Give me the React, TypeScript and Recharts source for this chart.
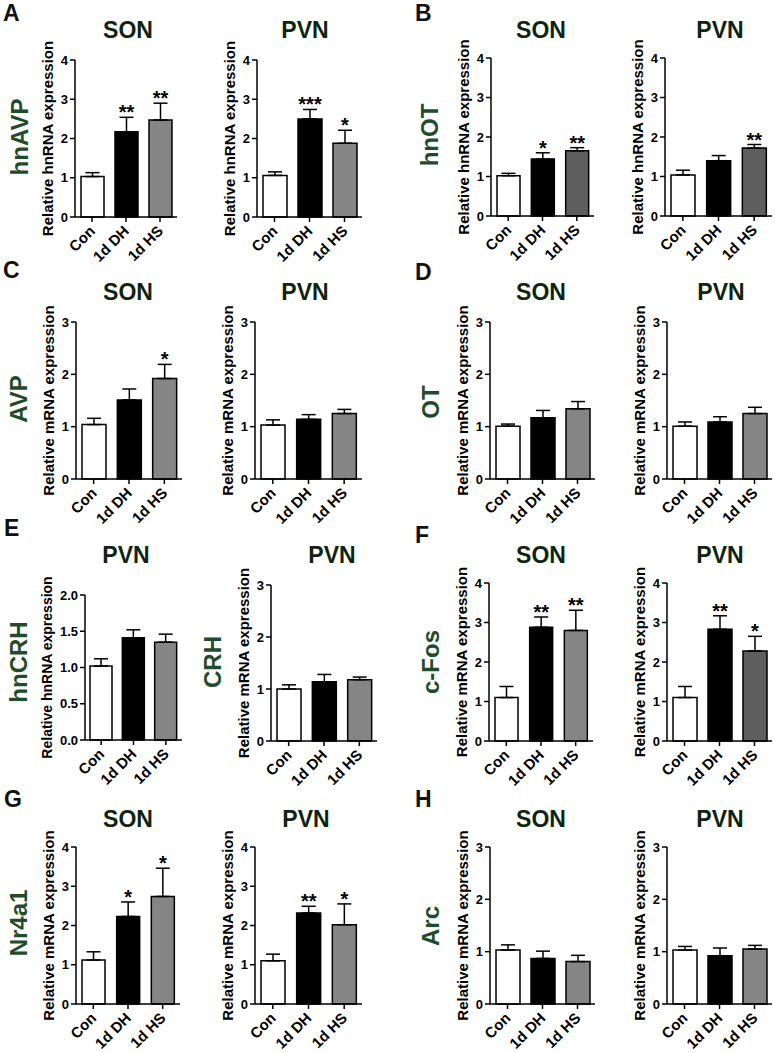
import React from "react";
import { BarChart, Bar, XAxis, YAxis, Cell, ErrorBar, LabelList, Label } from "recharts";

const FONT = "'Liberation Sans', Arial, sans-serif";
const groups = ["Con", "1d DH", "1d HS"];

// A - hnAVP
const hnAvpSonMean = [1.03, 2.17, 2.47];
const hnAvpSonSem = [0.1, 0.37, 0.43];
const hnAvpSonSig = ["", "**", "**"];
const hnAvpPvnMean = [1.06, 2.5, 1.88];
const hnAvpPvnSem = [0.09, 0.24, 0.33];
const hnAvpPvnSig = ["", "***", "*"];

// B - hnOT
const hnOtSonMean = [1.02, 1.44, 1.65];
const hnOtSonSem = [0.06, 0.16, 0.08];
const hnOtSonSig = ["", "*", "**"];
const hnOtPvnMean = [1.04, 1.4, 1.72];
const hnOtPvnSem = [0.12, 0.13, 0.09];
const hnOtPvnSig = ["", "", "**"];

// C - AVP
const avpSonMean = [1.04, 1.51, 1.92];
const avpSonSem = [0.12, 0.21, 0.27];
const avpSonSig = ["", "", "*"];
const avpPvnMean = [1.03, 1.14, 1.25];
const avpPvnSem = [0.1, 0.09, 0.08];

// D - OT
const otSonMean = [1.01, 1.17, 1.34];
const otSonSem = [0.04, 0.14, 0.14];
const otPvnMean = [1.01, 1.09, 1.25];
const otPvnSem = [0.08, 0.1, 0.12];

// E - hnCRH / CRH (PVN)
const hnCrhMean = [1.02, 1.41, 1.35];
const hnCrhSem = [0.1, 0.11, 0.11];
const crhMean = [1.0, 1.14, 1.18];
const crhSem = [0.08, 0.14, 0.05];

// F - c-Fos
const cFosSonMean = [1.1, 2.88, 2.8];
const cFosSonSem = [0.28, 0.26, 0.51];
const cFosSonSig = ["", "**", "**"];
const cFosPvnMean = [1.1, 2.83, 2.28];
const cFosPvnSem = [0.28, 0.34, 0.37];
const cFosPvnSig = ["", "**", "*"];

// G - Nr4a1
const nr4a1SonMean = [1.12, 2.23, 2.74];
const nr4a1SonSem = [0.21, 0.37, 0.72];
const nr4a1SonSig = ["", "*", "*"];
const nr4a1PvnMean = [1.1, 2.32, 2.02];
const nr4a1PvnSem = [0.17, 0.17, 0.53];
const nr4a1PvnSig = ["", "**", "*"];

// H - Arc
const arcSonMean = [1.03, 0.87, 0.81];
const arcSonSem = [0.1, 0.14, 0.12];
const arcPvnMean = [1.03, 0.92, 1.05];
const arcPvnSem = [0.07, 0.15, 0.07];

const ticks4 = [0, 1, 2, 3, 4];
const ticks3 = [0, 1, 2, 3];
const ticks2 = [0, 0.5, 1, 1.5, 2];
const noSig = ["", "", ""];

const Y_W = 60;
const TOP_PAD = 45;
const X_H = 60;
const R_PAD = 6;

const XTick = (props: any) => {
  const { x, y, payload } = props;
  return (
    <g transform={`translate(${x + 4},${y + 8})`}>
      <text x={0} y={0} textAnchor="end" transform="rotate(-45)" fontSize={15} fontWeight={700} fill="#000" fontFamily={FONT}>
        {payload.value}
      </text>
    </g>
  );
};

type ChartProps = {
  x: number;
  top: number;
  bottom: number;
  right: number;
  mean: number[];
  sem: number[];
  sig: string[];
  yMax: number;
  ticks: number[];
  yLabel: string;
  hsFill?: string;
  decimals?: boolean;
  labelGap?: number;
  labelSize?: number;
};

function MiniBar({ x, top, bottom, right, mean, sem, sig, yMax, ticks, yLabel, hsFill = "#858585", decimals, labelGap = 28, labelSize = 15 }: ChartProps) {
  const data = groups.map((g, i) => ({ group: g, value: mean[i], sem: [0, sem[i]], sig: sig[i] }));
  const w = right - x + Y_W + R_PAD;
  const h = bottom - top + TOP_PAD + X_H;
  const fills = ["#ffffff", "#000000", hsFill];
  const barSize = Math.round((right - x) * 0.225);

  const stars = (p: any) => {
    const vb = p.viewBox || p;
    const bx = vb.x ?? p.x;
    const by = vb.y ?? p.y;
    const bw = vb.width ?? p.width;
    const bh = vb.height ?? p.height;
    const i = p.index;
    if (!p.value) return null;
    const errTop = by - sem[i] * (bh / mean[i]);
    return (
      <text x={bx + bw / 2} y={errTop + 2} textAnchor="middle" fontSize={20} fontWeight={700} fill="#000" fontFamily={FONT}>
        {p.value}
      </text>
    );
  };

  const yLab = (p: any) => {
    const vb = p.viewBox;
    const cx = vb.x + vb.width - labelGap;
    const cy = vb.y + vb.height / 2;
    return (
      <text x={cx} y={cy} transform={`rotate(-90 ${cx} ${cy})`} textAnchor="middle" dominantBaseline="central" fontSize={labelSize} fontWeight={700} fill="#000" fontFamily={FONT}>
        {yLabel}
      </text>
    );
  };

  return (
    <div style={{ position: "absolute", left: x - Y_W, top: top - TOP_PAD }}>
      <BarChart width={w} height={h} data={data} margin={{ top: TOP_PAD, right: R_PAD, left: 0, bottom: 0 }} barSize={barSize}>
        <XAxis
          dataKey="group"
          height={X_H}
          interval={0}
          tick={<XTick />}
          tickSize={5}
          tickLine={{ stroke: "#000", strokeWidth: 1.5 }}
          axisLine={{ stroke: "#000", strokeWidth: 1.5 }}
        />
        <YAxis
          width={Y_W}
          domain={[0, yMax]}
          ticks={ticks}
          tickFormatter={(v: number) => (decimals ? v.toFixed(1) : String(v))}
          tick={{ fill: "#000", fontSize: 13, fontWeight: 700, fontFamily: FONT }}
          tickSize={5}
          tickLine={{ stroke: "#000", strokeWidth: 1.5 }}
          axisLine={{ stroke: "#000", strokeWidth: 1.5 }}
        >
          <Label content={yLab} />
        </YAxis>
        <Bar dataKey="value" isAnimationActive={false} stroke="#000" strokeWidth={1.5}>
          {data.map((d, i) => (
            <Cell key={d.group} fill={fills[i]} />
          ))}
          <ErrorBar dataKey="sem" width={7} stroke="#000" strokeWidth={1.5} direction="y" />
          <LabelList dataKey="sig" content={stars} />
        </Bar>
      </BarChart>
    </div>
  );
}

const letterStyle = { fontSize: 23, fontWeight: 700, fill: "#111", fontFamily: FONT };
const titleStyle = { fontSize: 23, fontWeight: 700, fill: "#0f2410", fontFamily: FONT };
const geneStyle = { fontSize: 24, fontWeight: 700, fill: "#1f4d2a", fontFamily: FONT };

const Gene = ({ x, y, t }: { x: number; y: number; t: string }) => (
  <text x={x} y={y} transform={`rotate(-90 ${x} ${y})`} textAnchor="middle" dominantBaseline="central" style={geneStyle}>
    {t}
  </text>
);

export default function App() {
  return (
    <div style={{ position: "relative", width: 775, height: 1053, background: "#fff", overflow: "hidden" }}>
      <style>{`body{margin:0}`}</style>
      <svg width={775} height={1053} style={{ position: "absolute", left: 0, top: 0 }}>
        <text x={3} y={21} style={letterStyle}>A</text>
        <text x={415} y={21} style={letterStyle}>B</text>
        <text x={3} y={278} style={letterStyle}>C</text>
        <text x={415} y={280} style={letterStyle}>D</text>
        <text x={4} y={536} style={letterStyle}>E</text>
        <text x={415} y={543} style={letterStyle}>F</text>
        <text x={4} y={807} style={letterStyle}>G</text>
        <text x={415} y={807} style={letterStyle}>H</text>

        <text x={128} y={38} textAnchor="middle" style={titleStyle}>SON</text>
        <text x={305} y={38} textAnchor="middle" style={titleStyle}>PVN</text>
        <text x={541} y={38} textAnchor="middle" style={titleStyle}>SON</text>
        <text x={720} y={38} textAnchor="middle" style={titleStyle}>PVN</text>
        <text x={128} y={300} textAnchor="middle" style={titleStyle}>SON</text>
        <text x={305} y={300} textAnchor="middle" style={titleStyle}>PVN</text>
        <text x={541} y={300} textAnchor="middle" style={titleStyle}>SON</text>
        <text x={721} y={300} textAnchor="middle" style={titleStyle}>PVN</text>
        <text x={126} y={563} textAnchor="middle" style={titleStyle}>PVN</text>
        <text x={332} y={563} textAnchor="middle" style={titleStyle}>PVN</text>
        <text x={541} y={563} textAnchor="middle" style={titleStyle}>SON</text>
        <text x={720} y={563} textAnchor="middle" style={titleStyle}>PVN</text>
        <text x={128} y={827} textAnchor="middle" style={titleStyle}>SON</text>
        <text x={306} y={827} textAnchor="middle" style={titleStyle}>PVN</text>
        <text x={541} y={827} textAnchor="middle" style={titleStyle}>SON</text>
        <text x={720} y={827} textAnchor="middle" style={titleStyle}>PVN</text>

        <Gene x={19} y={137} t="hnAVP" />
        <Gene x={429} y={135} t="hnOT" />
        <Gene x={18} y={399} t="AVP" />
        <Gene x={430} y={402} t="OT" />
        <Gene x={18} y={662} t="hnCRH" />
        <Gene x={212} y={662} t="CRH" />
        <Gene x={430} y={662} t="c-Fos" />
        <Gene x={18} y={923} t="Nr4a1" />
        <Gene x={430} y={926} t="Arc" />
      </svg>

      <MiniBar x={75} top={60} bottom={217} right={177} mean={hnAvpSonMean} sem={hnAvpSonSem} sig={hnAvpSonSig} yMax={4} ticks={ticks4} yLabel="Relative hnRNA expression" />
      <MiniBar x={257} top={60} bottom={217} right={362} mean={hnAvpPvnMean} sem={hnAvpPvnSem} sig={hnAvpPvnSig} yMax={4} ticks={ticks4} yLabel="Relative hnRNA expression" />
      <MiniBar x={491} top={58} bottom={216} right={594} mean={hnOtSonMean} sem={hnOtSonSem} sig={hnOtSonSig} yMax={4} ticks={ticks4} yLabel="Relative hnRNA expression" hsFill="#5e5e5e" />
      <MiniBar x={665} top={58} bottom={216} right={772} mean={hnOtPvnMean} sem={hnOtPvnSem} sig={hnOtPvnSig} yMax={4} ticks={ticks4} yLabel="Relative hnRNA expression" hsFill="#5e5e5e" />

      <MiniBar x={76} top={322} bottom={479} right={182} mean={avpSonMean} sem={avpSonSem} sig={avpSonSig} yMax={3} ticks={ticks3} yLabel="Relative mRNA expression" />
      <MiniBar x={255} top={322} bottom={479} right={362} mean={avpPvnMean} sem={avpPvnSem} sig={noSig} yMax={3} ticks={ticks3} yLabel="Relative mRNA expression" />
      <MiniBar x={490} top={322} bottom={479} right={595} mean={otSonMean} sem={otSonSem} sig={noSig} yMax={3} ticks={ticks3} yLabel="Relative mRNA expression" />
      <MiniBar x={667} top={322} bottom={479} right={772} mean={otPvnMean} sem={otPvnSem} sig={noSig} yMax={3} ticks={ticks3} yLabel="Relative mRNA expression" />

      <MiniBar x={85} top={595} bottom={740} right={182} mean={hnCrhMean} sem={hnCrhSem} sig={noSig} yMax={2} ticks={ticks2} decimals labelGap={38} labelSize={14} yLabel="Relative hnRNA expression" />
      <MiniBar x={271} top={585} bottom={741} right={377} mean={crhMean} sem={crhSem} sig={noSig} yMax={3} ticks={ticks3} yLabel="Relative mRNA expression" />
      <MiniBar x={489} top={583} bottom={741} right={593} mean={cFosSonMean} sem={cFosSonSem} sig={cFosSonSig} yMax={4} ticks={ticks4} yLabel="Relative mRNA expression" />
      <MiniBar x={667} top={583} bottom={741} right={772} mean={cFosPvnMean} sem={cFosPvnSem} sig={cFosPvnSig} yMax={4} ticks={ticks4} yLabel="Relative mRNA expression" hsFill="#5e5e5e" />

      <MiniBar x={76} top={847} bottom={1004} right={180} mean={nr4a1SonMean} sem={nr4a1SonSem} sig={nr4a1SonSig} yMax={4} ticks={ticks4} yLabel="Relative mRNA expression" />
      <MiniBar x={255} top={847} bottom={1004} right={362} mean={nr4a1PvnMean} sem={nr4a1PvnSem} sig={nr4a1PvnSig} yMax={4} ticks={ticks4} yLabel="Relative mRNA expression" />
      <MiniBar x={490} top={847} bottom={1004} right={595} mean={arcSonMean} sem={arcSonSem} sig={noSig} yMax={3} ticks={ticks3} yLabel="Relative mRNA expression" />
      <MiniBar x={667} top={847} bottom={1004} right={772} mean={arcPvnMean} sem={arcPvnSem} sig={noSig} yMax={3} ticks={ticks3} yLabel="Relative mRNA expression" />
    </div>
  );
}
